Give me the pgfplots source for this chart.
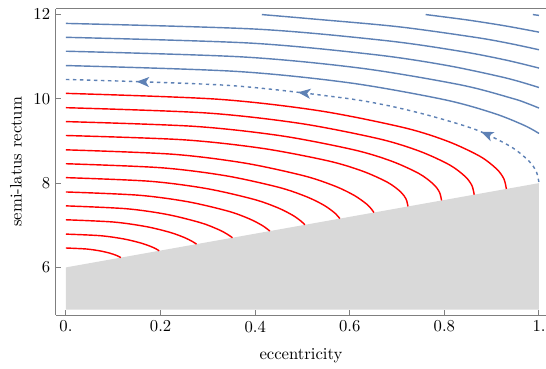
\documentclass[border=0pt]{standalone}
\usepackage{pgfplots}
\pgfplotsset{compat=1.18}
\usetikzlibrary{decorations.markings,arrows.meta}
\definecolor{mblue}{HTML}{5E81B5}
\definecolor{fillgray}{HTML}{D9D9D9}
\definecolor{framegray}{HTML}{7F7F7F}
\begin{document}
\begin{tikzpicture}
\begin{axis}[
  scale only axis,
  width=294pt, height=183.8pt,
  xmin=-0.0211, xmax=1.0148,
  ymin=4.87, ymax=12.14,
  axis x line*=bottom, axis y line*=left,
  axis line style={framegray, line width=0.6pt},
  xtick={0,0.2,0.4,0.6,0.8,1},
  xticklabels={0.,0.2,0.4,0.6,0.8,1.},
  ytick={6,8,10,12},
  tick align=inside,
  major tick length=3pt,
  tick style={framegray, line width=0.6pt},
  xlabel={eccentricity}, ylabel={semi-latus rectum},
  x label style={at={(axis description cs:0.5,-0.134)}, anchor=center},
  y label style={at={(axis description cs:-0.082,0.5)}, anchor=center},
  red curve/.style={red, line width=0.85pt, smooth},
  blue curve/.style={mblue, line width=0.85pt, smooth},
]
\coordinate (ll) at (rel axis cs:0,0);
\coordinate (ur) at (rel axis cs:1,1);
\coordinate (ul) at (rel axis cs:0,1);
% forbidden region
\addplot[fill=fillgray, draw=none] coordinates {(0,5) (0,6) (1,8) (1,5)};
% red curves
\addplot[red curve] coordinates {(0,6.460) (0.0436,6.436) (0.0732,6.389) (0.0933,6.336) (0.1058,6.288) (0.1127,6.253) (0.116,6.232)};
\addplot[red curve] coordinates {(0,6.790) (0.0728,6.752) (0.1221,6.675) (0.1581,6.579) (0.1805,6.491) (0.1913,6.433) (0.197,6.394)};
\addplot[red curve] coordinates {(0,7.130) (0.1010,7.076) (0.1694,6.968) (0.2194,6.833) (0.2504,6.708) (0.2676,6.612) (0.276,6.552)};
\addplot[red curve] coordinates {(0,7.460) (0.1276,7.392) (0.2140,7.256) (0.2858,7.056) (0.3231,6.894) (0.3408,6.789) (0.352,6.704)};
\addplot[red curve] coordinates {(0,7.790) (0.1533,7.713) (0.2571,7.559) (0.3433,7.333) (0.3881,7.150) (0.4156,6.990) (0.431,6.862)};
\addplot[red curve] coordinates {(0,8.130) (0.1770,8.044) (0.2969,7.871) (0.3965,7.617) (0.4482,7.413) (0.4799,7.233) (0.4976,7.091) (0.505,7.010)};
\addplot[red curve] coordinates {(0,8.460) (0.2010,8.365) (0.3371,8.176) (0.4502,7.899) (0.5090,7.675) (0.5449,7.478) (0.5677,7.296) (0.579,7.158)};
\addplot[red curve] coordinates {(0,8.790) (0.2249,8.686) (0.3771,8.477) (0.5036,8.172) (0.5694,7.925) (0.6096,7.707) (0.6351,7.507) (0.6454,7.389) (0.651,7.302)};
\addplot[red curve] coordinates {(0,9.130) (0.2473,9.029) (0.4147,8.826) (0.5538,8.529) (0.6261,8.288) (0.6794,8.022) (0.7072,7.796) (0.7190,7.622) (0.723,7.446)};
\addplot[red curve] coordinates {(0,9.460) (0.2715,9.347) (0.4554,9.122) (0.6082,8.791) (0.6876,8.524) (0.7461,8.228) (0.7766,7.977) (0.7896,7.784) (0.794,7.588)};
\addplot[red curve] coordinates {(0,9.790) (0.2951,9.666) (0.4950,9.417) (0.6611,9.053) (0.7474,8.758) (0.8110,8.432) (0.8441,8.155) (0.8582,7.942) (0.863,7.726)};
\addplot[red curve] coordinates {(0,10.130) (0.3184,9.993) (0.5340,9.720) (0.7131,9.320) (0.8062,8.996) (0.8749,8.638) (0.9106,8.334) (0.9259,8.099) (0.931,7.862)};
% dashed flow line
\addplot[mblue, line width=0.85pt, smooth, dash pattern=on 2pt off 2.2pt,
  postaction={decorate},
  decoration={markings,
    mark=at position 0.141 with {\arrowreversed[mblue]{Stealth[length=7.5pt,width=6pt,inset=2pt]}},
    mark=at position 0.4635 with {\arrowreversed[mblue]{Stealth[length=7.5pt,width=6pt,inset=2pt]}},
    mark=at position 0.838 with {\arrowreversed[mblue]{Stealth[length=7.5pt,width=6pt,inset=2pt]}}}]
  coordinates {(0,10.46) (0.342,10.32) (0.5736,10.04) (0.672,9.86) (0.766,9.61) (0.866,9.27) (0.9397,8.87) (0.9781,8.53) (0.9945,8.27) (1,8.0)};
% blue curves
\addplot[blue curve] coordinates {(0,10.79) (0.3574,10.653) (0.5994,10.380) (0.8005,9.979) (0.905,9.655) (0.9689,9.370) (1,9.179)};
\addplot[blue curve] coordinates {(0,11.13) (0.3728,10.995) (0.6252,10.725) (0.8349,10.330) (0.9439,10.010) (0.9756,9.890) (1,9.781)};
\addplot[blue curve] coordinates {(0,11.46) (0.3882,11.324) (0.6510,11.051) (0.8026,10.798) (0.9298,10.496) (1,10.269)};
\addplot[blue curve] coordinates {(0,11.79) (0.4036,11.654) (0.6768,11.381) (0.8344,11.128) (0.9298,10.921) (1,10.730)};
\addplot[blue curve] coordinates {(0.414,12.0) (0.5177,11.900) (0.7027,11.711) (0.8662,11.458) (0.9384,11.313) (1,11.165)};
\addplot[blue curve] coordinates {(0.7605,12.0) (0.8498,11.870) (0.9289,11.731) (1,11.583)};
\addplot[blue curve] coordinates {(0.987,12.0) (1,11.98)};
\end{axis}
\draw[framegray, line width=0.6pt] (ul) -- ([xshift=10pt]ur);
\pgfresetboundingbox
\path ([xshift=-33.6pt,yshift=-31.8pt]ll) rectangle ([yshift=5.2pt]ur);
\end{tikzpicture}
\end{document}
